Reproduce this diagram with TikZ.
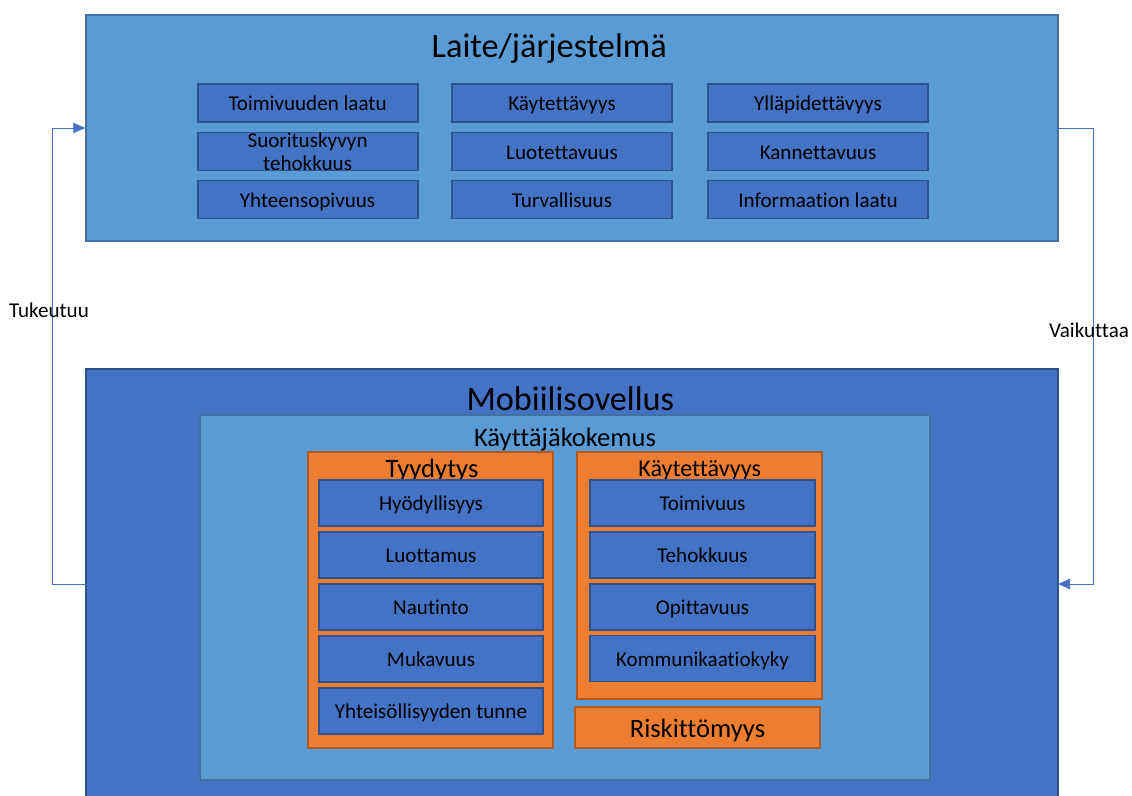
\documentclass[tikz,border=0pt]{standalone}
\usepackage{fontspec}
\setmainfont{Carlito}[Ligatures=NoCommon]
\usetikzlibrary{arrows.meta}
\definecolor{lightblue}{HTML}{5B9BD5}
\definecolor{lightedge}{HTML}{41719C}
\definecolor{darkblue}{HTML}{4472C4}
\definecolor{darkedge}{HTML}{2F528F}
\definecolor{orangefill}{HTML}{ED7D31}
\definecolor{orangeedge}{HTML}{AE5A21}
\newcommand{\fitem}{\fontsize{15}{16.4}\selectfont}
\newcommand{\fhead}{\fontsize{24.4}{28}\selectfont}
\newcommand{\fsub}{\fontsize{18.9}{22}\selectfont}
\newcommand{\fgroup}{\fontsize{17.1}{20}\selectfont}

\begin{document}
\begin{tikzpicture}[
    panel/.style={draw=lightedge, line width=1pt, inner sep=0pt},
    item/.style={draw=darkedge, line width=1.4pt, fill=darkblue, inner sep=0pt, minimum width=5.5cm, minimum height=0.95cm, font=\fitem, text height=11pt, text depth=0pt},
    subitem/.style={item, minimum width=5.6cm, minimum height=1.15cm},
    group/.style={draw=orangeedge, line width=1.2pt, fill=orangefill, inner sep=0pt, minimum width=6.125cm},
    title/.style={inner sep=0pt, text depth=0pt},
    conn/.style={-{Triangle[length=0.3cm,width=0.26cm]}, darkblue, line width=0.6pt},
    sidenote/.style={font=\fitem, inner sep=0pt},
]
\useasboundingbox (0,0) rectangle (28.3,19.9);

% Laite / jarjestelma
\node[panel, fill=lightblue, minimum width=24.3cm, minimum height=5.65cm] (device) at (14.3,16.7) {};
\node[title, font=\fhead, text height=17.5pt] (devtitle) at (13.73,18.775) {Laite/järjestelmä};

\node[item] (quality) at (7.69,17.325) {Toimivuuden laatu};
\node[item] (perf) at (7.69,16.1125) {};
\node[font=\fitem, align=center, inner sep=0pt] (perftext) at (perf) {Suorituskyvyn\\tehokkuus};
\node[item] (compat) at (7.69,14.9125) {Yhteensopivuus};
\node[item] (usable) at (14.05,17.325) {Käytettävyys};
\node[item] (reliab) at (14.05,16.1125) {Luotettavuus};
\node[item] (secur) at (14.05,14.9125) {Turvallisuus};
\node[item] (maint) at (20.45,17.325) {Ylläpidettävyys};
\node[item] (port) at (20.45,16.1125) {Kannettavuus};
\node[item] (info) at (20.45,14.9125) {Informaation laatu};

% Mobiilisovellus
\node[panel, fill=darkblue, draw=darkedge, minimum width=24.3cm, minimum height=10.875cm] (mobile) at (14.3,5.2375) {};
\node[title, font=\fhead, text height=17.5pt] (mobtitle) at (14.26,9.95) {Mobiilisovellus};
\node[panel, fill=lightblue, minimum width=18.25cm, minimum height=9.125cm] (ux) at (14.125,4.9625) {};
\node[title, font=\fsub, text height=13.6pt] (uxtitle) at (14.125,8.975) {Käyttäjäkokemus};

% Tyydytys
\node[group, minimum height=7.4cm] (satisf) at (10.7625,4.9) {};
\node[title, font=\fsub, text height=13.6pt] (satitle) at (10.8,8.2) {Tyydytys};
\node[subitem] (useful) at (10.775,7.325) {Hyödyllisyys};
\node[subitem] (trust) at (10.775,6.025) {Luottamus};
\node[subitem] (joy) at (10.775,4.725) {Nautinto};
\node[subitem] (comfort) at (10.775,3.425) {Mukavuus};
\node[subitem] (commun) at (10.775,2.125) {Yhteisöllisyyden tunne};

% Kaytettavyys
\node[group, minimum height=6.175cm] (usab) at (17.4875,5.5125) {};
\node[title, font=\fgroup, text height=12.3pt] (usabtitle) at (17.49,8.2) {Käytettävyys};
\node[subitem, minimum width=5.625cm] (function) at (17.5625,7.325) {Toimivuus};
\node[subitem, minimum width=5.625cm] (effic) at (17.5625,6.025) {Tehokkuus};
\node[subitem, minimum width=5.625cm] (learn) at (17.5625,4.725) {Opittavuus};
\node[subitem, minimum width=5.625cm] (communic) at (17.5625,3.4375) {Kommunikaatiokyky};
\node[group, minimum height=1.025cm, font=\fsub, text height=13.6pt, text depth=0pt] (risk) at (17.4375,1.7125) {Riskittömyys};

% Connectors
\coordinate (mobin) at (2.15,5.3);
\coordinate (mobout) at (26.45,5.3);
\draw[conn] (mobin) -- ++(-0.85,0) |- (device.west);
\draw[conn] (device.east) -- ++(0.875,0) |- (mobout);
\node[sidenote] (supports) at (1.225,12.15) {Tukeutuu};
\node[sidenote] (affects) at (27.225,11.65) {Vaikuttaa};
\end{tikzpicture}
\end{document}
